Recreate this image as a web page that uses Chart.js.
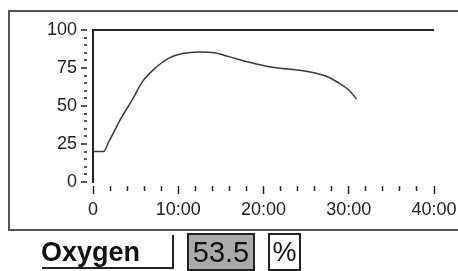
<!DOCTYPE html>
<html>
<head>
<meta charset="utf-8">
<script src="https://cdn.jsdelivr.net/npm/chart.js@4/dist/chart.umd.min.js"></script>
<style>
  html, body { margin: 0; padding: 0; background: #fff; }
  #wrap { position: relative; width: 458px; height: 271px; overflow: hidden; font-family: "Liberation Sans", Arial, sans-serif; }
  #frame { position: absolute; left: 8px; top: 10px; width: 470px; height: 217px; border: 2px solid #555; }
  #plot { position: absolute; left: 0; top: 0; }
  .lbl { position: absolute; color: #111; }
  #name { left: 41px; top: 236px; font-size: 27px; font-weight: bold; line-height: 32px; }
  #under { position: absolute; left: 42px; top: 267px; width: 132px; height: 2px; background: #222; }
  #bar { position: absolute; left: 172px; top: 235px; width: 2px; height: 34px; background: #222; }
  #value { left: 187px; top: 233px; width: 64px; height: 34px; background: #aaa; border: 2px solid #222;
           font-size: 29px; line-height: 35px; text-align: center; }
  #unit { left: 268px; top: 233px; width: 29px; height: 34px; background: #fff; border: 2px solid #222;
          font-size: 27px; line-height: 35px; text-align: center; }
</style>
</head>
<body>
<div id="wrap">
  <div id="frame"></div>
  <canvas id="plot" width="458" height="271"></canvas>
  <div class="lbl" id="name">Oxygen</div>
  <div id="under"></div>
  <div id="bar"></div>
  <div class="lbl" id="value">53.5</div>
  <div class="lbl" id="unit">%</div>
</div>
<script>
// elapsed time (minutes) and oxygen (%)
const minutes = [0, 1.2, 1.9, 3.3, 4.6, 5.8, 7.4, 8.9, 10.5, 12.5, 14.2, 15.9, 18.2, 20.9, 22.9, 25.3, 27.3, 28.8, 30.0, 30.9];
const oxygen  = [20, 20, 27, 42, 54, 66, 75.5, 81.5, 84.5, 85.5, 85, 82.5, 79, 75.7, 74.3, 72.6, 69.7, 65.3, 60.5, 54.6];

const xMajorTicks = [0, 10, 20, 30, 40];
const yMajorTicks = [0, 25, 50, 75, 100];
const xTickLabels = ['0', '10:00', '20:00', '30:00', '40:00'];

const ink = '#222';

const points = minutes.map((m, i) => ({ x: m, y: oxygen[i] }));

new Chart(document.getElementById('plot'), {
  type: 'scatter',
  data: {
    datasets: [{
      data: points,
      showLine: true,
      borderColor: '#3a3a3a',
      borderWidth: 1.5,
      pointRadius: 0,
      cubicInterpolationMode: 'monotone',
      fill: false
    }]
  },
  options: {
    responsive: false,
    animation: false,
    layout: { padding: { left: 33, top: 30, right: 24, bottom: 49 } },
    plugins: { legend: { display: false }, tooltip: { enabled: false } },
    scales: {
      x: {
        type: 'linear',
        min: 0,
        max: 40,
        afterFit: (s) => { s.height = 40; s.paddingLeft = 0; s.paddingRight = 0; },
        border: { display: false },
        grid: {
          drawOnChartArea: false,
          tickLength: 12,
          tickColor: ink,
          tickWidth: 1.5,
          // gap next to the plot, then the mark
          tickBorderDash: (c) => xMajorTicks.includes(c.tick.value) ? [8, 4] : [5, 4],
          tickBorderDashOffset: (c) => xMajorTicks.includes(c.tick.value) ? 8 : 5
        },
        ticks: {
          stepSize: 2,
          autoSkip: false,
          maxRotation: 0,
          padding: 5,
          color: ink,
          font: { family: 'Liberation Sans', size: 18 },
          callback: (v) => {
            const k = xMajorTicks.indexOf(v);
            return k >= 0 ? xTickLabels[k] : '';
          }
        }
      },
      y: {
        min: 0,
        max: 100,
        afterFit: (s) => { s.width = 60; },
        border: { display: true, color: ink, width: 2 },
        grid: {
          color: (c) => c.tick && c.tick.value === 100 ? ink : 'rgba(0,0,0,0)',
          lineWidth: 2,
          tickLength: 12,
          tickColor: ink,
          tickWidth: 1.5,
          // left ticks are drawn outward-in: mark first, gap by the axis
          tickBorderDash: (c) => yMajorTicks.includes(c.tick.value) ? [6, 6] : [3, 9],
          tickBorderDashOffset: (c) => yMajorTicks.includes(c.tick.value) ? 0 : 9
        },
        ticks: {
          stepSize: 5,
          autoSkip: false,
          padding: 4,
          color: ink,
          font: { family: 'Liberation Sans', size: 18 },
          callback: (v) => yMajorTicks.includes(v) ? String(v) : ''
        }
      }
    }
  }
});
</script>
</body>
</html>
